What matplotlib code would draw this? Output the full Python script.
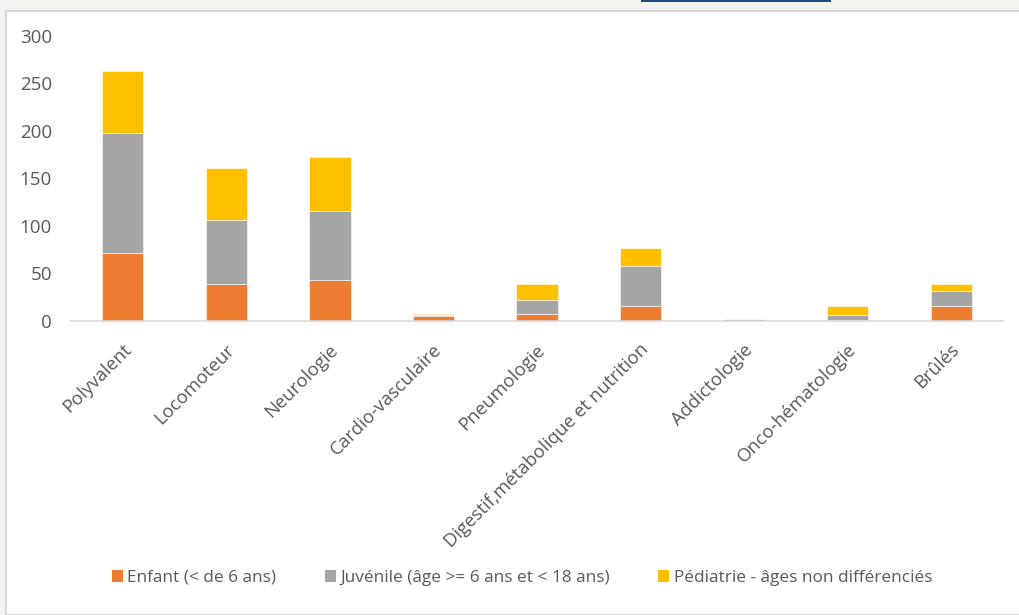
import matplotlib.pyplot as plt
import numpy as np
from matplotlib.patches import Patch, Rectangle

plt.rcParams['font.family'] = ['Open Sans', 'DejaVu Sans']

# --- data ---
categories = [
    'Polyvalent', 'Locomoteur', 'Neurologie', 'Cardio-vasculaire', 'Pneumologie',
    'Digestif,métabolique et nutrition', 'Addictologie', 'Onco-hématologie', 'Brûlés',
]
enfant = [71, 38, 43, 5, 7, 15, 0, 1, 15]
juvenile = [127, 68, 72, 1, 15, 42, 2, 5, 16]
pediatrie = [65, 55, 57, 1, 17, 19, 0, 9, 7]

series_labels = [
    'Enfant (< de 6 ans)',
    'Juvénile (âge >= 6 ans et < 18 ans)',
    'Pédiatrie - âges non différenciés',
]
colors = ['#ED7D31', '#A5A5A5', '#FFC000']
text_color = '#595959'


def main():
    W, H = 1020, 615
    fig = plt.figure(figsize=(W / 100, H / 100), dpi=100)
    fig.patch.set_facecolor('#f3f2ee')

    # white panel with a light frame on top and left
    fig.patches.append(Rectangle((6 / W, 0), 1, 1 - 11 / H, transform=fig.transFigure,
                                 facecolor='white', edgecolor='#d9d9d9', linewidth=1.5,
                                 zorder=-2))
    fig.patches.append(Rectangle((641 / W, 1 - 2 / H), 190 / W, 2 / H,
                                 transform=fig.transFigure, facecolor='#1f4e79',
                                 edgecolor='none', zorder=-1))

    ax = fig.add_axes([71 / W, 1 - 320.5 / H, (1003 - 71) / W, (320.5 - 36) / H])
    ax.set_facecolor('none')

    x = np.arange(len(categories))
    bottom = np.zeros(len(categories))
    for vals, col in zip((enfant, juvenile, pediatrie), colors):
        ax.bar(x, vals, 0.4, bottom=bottom, color=col, edgecolor='white',
               linewidth=0.4, zorder=2)
        bottom += np.array(vals)

    ax.set_xlim(-0.5, len(categories) - 0.5)
    ax.set_ylim(0, 300)
    ax.set_yticks(np.arange(0, 301, 50))
    ax.tick_params(axis='y', length=0, pad=13.7, labelsize=13.5, labelcolor=text_color)
    ax.tick_params(axis='x', length=0)
    ax.set_xticks(x)
    ax.set_xticklabels([])

    for s in ('top', 'right', 'left'):
        ax.spines[s].set_visible(False)
    ax.spines['bottom'].set_color('#d9d9d9')
    ax.spines['bottom'].set_linewidth(1.2)

    # rotated category names, right end pinned just under each bar
    for i, name in enumerate(categories):
        ax.annotate(name, xy=(i, 0), xycoords=('data', 'axes fraction'),
                    xytext=(4, -19), textcoords='offset points',
                    rotation=45, rotation_mode='anchor', ha='right', va='center',
                    fontsize=13.3, color=text_color, annotation_clip=False)

    handles = [Patch(facecolor=c, edgecolor='none', label=l)
               for c, l in zip(colors, series_labels)]
    fig.legend(handles=handles, loc='center', bbox_to_anchor=(522 / W, 1 - 578 / H),
               ncol=3, frameon=False, fontsize=12.4, labelcolor=text_color,
               handlelength=0.65, handleheight=0.65, handletextpad=0.25,
               columnspacing=2.8)

    fig.savefig('out.png', dpi=100, facecolor=fig.get_facecolor())


if __name__ == '__main__':
    main()
